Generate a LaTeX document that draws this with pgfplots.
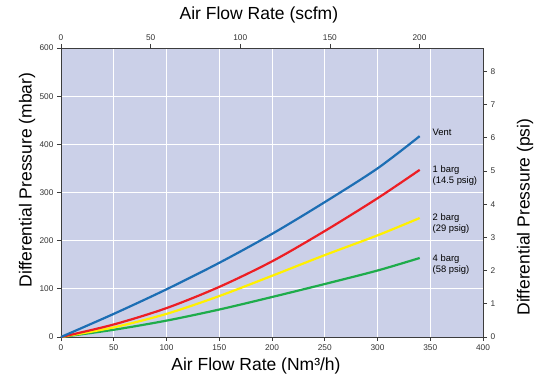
\documentclass[border=0pt]{standalone}
\usepackage{fontspec}
\setmainfont{Liberation Sans}
\usepackage{pgfplots}
\pgfplotsset{compat=1.18}
\definecolor{bgc}{RGB}{203,208,232}
\definecolor{cvent}{RGB}{28,110,180}
\definecolor{cred}{RGB}{237,30,36}
\definecolor{cyel}{RGB}{255,240,0}
\definecolor{cgrn}{RGB}{30,172,75}
\definecolor{axc}{RGB}{60,60,60}
\begin{document}
\begin{tikzpicture}
\pgfplotsset{
  common/.style={
    at={(0,0)}, anchor=south west, scale only axis,
    width=422pt, height=289pt,
    tick align=outside, major tick length=4pt,
    axis line style={axc, line width=0.7pt},
    tick style={axc, line width=0.7pt},
    ticklabel style={font=\fontsize{8.3}{10}\selectfont, text=black!80},
    /pgf/number format/assume math mode=true,
    label style={font=\fontsize{17.5}{20}\selectfont},
  }
}
\begin{axis}[common,
  xmin=0, xmax=400, ymin=0, ymax=600,
  axis x line*=bottom, axis y line*=left,
  xtick={0,50,...,400}, ytick={0,100,...,600},
  grid=major, grid style={white, line width=0.9pt},
  axis background/.style={fill=bgc},
  xlabel={Air Flow Rate (Nm³/h)},
  ylabel={Differential Pressure (mbar)},
  xlabel style={at={(axis description cs:0.462,-0.100)}, anchor=center},
  ylabel style={at={(axis description cs:-0.0806,0.543)}, anchor=center},
  clip=false,
]
\addplot[cgrn, line width=2.2pt, smooth] coordinates {(0,0) (50,15) (100,34) (150,57) (200,83) (250,110) (300,138) (340,164)};
\addplot[cyel, line width=2.2pt, smooth] coordinates {(0,0) (50,20) (100,48) (150,85) (200,127) (250,170) (300,211) (340,247)};
\addplot[cred, line width=2.2pt, smooth] coordinates {(0,0) (50,26) (100,60) (150,104) (200,157) (250,220) (300,288) (340,347)};
\addplot[cvent, line width=2.2pt, smooth] coordinates {(0,0) (50,48) (100,99) (150,154) (200,214) (250,280) (300,350) (340,417)};
\node[anchor=west, font=\fontsize{9.4}{11}\selectfont, align=left] at (axis cs:349,425) {Vent};
\node[anchor=west, font=\fontsize{9.4}{11}\selectfont, align=left] at (axis cs:349,336) {1 barg\\(14.5 psig)};
\node[anchor=west, font=\fontsize{9.4}{11}\selectfont, align=left] at (axis cs:349,235) {2 barg\\(29 psig)};
\node[anchor=west, font=\fontsize{9.4}{11}\selectfont, align=left] at (axis cs:349,151) {4 barg\\(58 psig)};
\end{axis}
\begin{axis}[common,
  xmin=0, xmax=235.43, ymin=0, ymax=8.702,
  axis x line*=top, axis y line*=right,
  xtick={0,50,...,200}, ytick={0,1,...,8},
  xlabel={Air Flow Rate (scfm)},
  ylabel={Differential Pressure (psi)},
  xlabel style={at={(axis description cs:0.469,1.114)}, anchor=center},
  ylabel style={at={(axis description cs:1.0995,0.415)}, anchor=center},
]
\end{axis}
\pgfresetboundingbox
\path[use as bounding box] (-61pt,-50pt) rectangle (475pt,337pt);
\end{tikzpicture}
\end{document}
